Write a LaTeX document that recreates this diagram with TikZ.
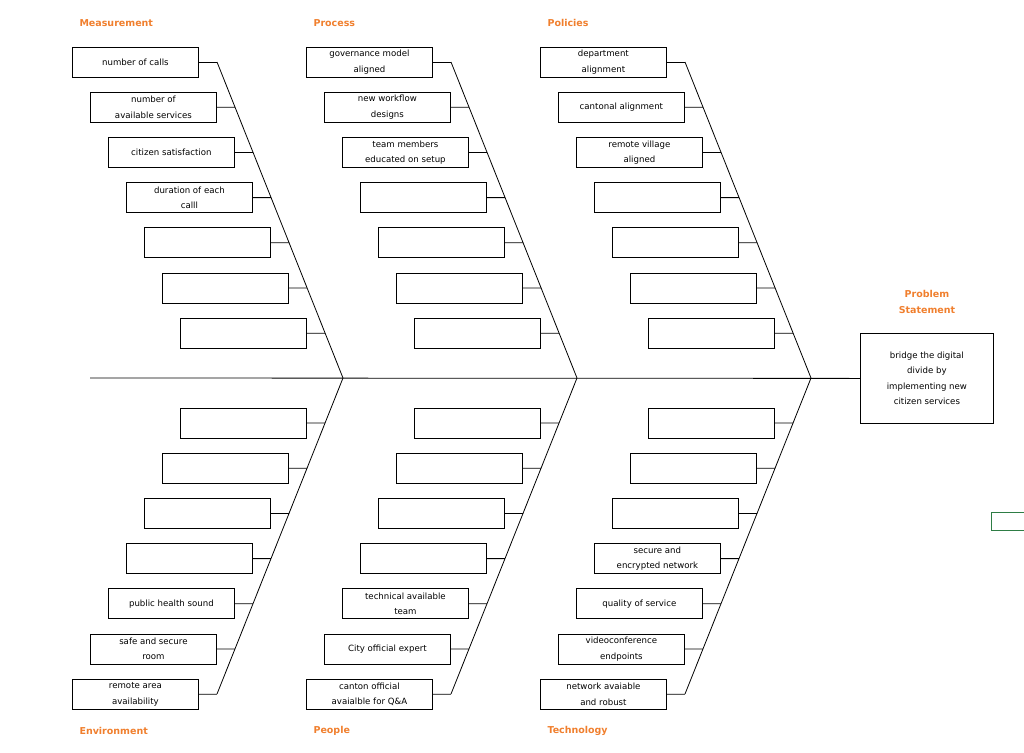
\documentclass[tikz,border=0pt]{standalone}
\usepackage{fontspec}
\setmainfont{DejaVu Sans}
\usetikzlibrary{calc}
\definecolor{catorange}{HTML}{F07F2E}
\definecolor{tabgreen}{HTML}{2E7D45}
\tikzset{
  cause/.style={draw, thick, minimum width=126pt, minimum height=30pt, inner sep=1pt,
    align=center, font=\fontsize{8.6}{15.5}\selectfont, anchor=west},
  cat/.style={text=catorange, font=\fontsize{9.5}{16}\selectfont\bfseries, anchor=west},
  bone/.style={thick}
}
\begin{document}
\begin{tikzpicture}[x=1pt,y=-1pt]
  \useasboundingbox (0,0) rectangle (1024,752);
  % spine and effect
  \node[cause, minimum width=133pt, minimum height=90pt, anchor=north west] (effect) at (860,333)
    {bridge the digital\\divide by\\implementing new\\citizen services};
  \coordinate (tail) at (90,378);
  \draw[bone] (tail) -- (effect.west);
  \node[text=catorange, font=\fontsize{9.5}{16}\selectfont\bfseries, align=center] (problem) at (927,302)
    {Problem\\Statement};
  \draw[tabgreen, thick] (991,512) rectangle (1026,530);
  % categories
  \node[cat] (measurement) at (76,23) {Measurement};
  \node[cat] (process) at (310,23) {Process};
  \node[cat] (policies) at (544,23) {Policies};
  \node[cat] (environment) at (76,731) {Environment};
  \node[cat] (people) at (310,731) {People};
  \node[cat] (technology) at (544,731) {Technology};
  % bones
  \foreach \c in {0,1,2} {
    \coordinate (hub\c) at (343+234*\c,378);
    \coordinate (top\c) at (217+234*\c,62);
    \coordinate (bot\c) at (217+234*\c,694);
    \draw[bone] (top\c) -- (hub\c);
    \draw[bone] (bot\c) -- (hub\c);
  }
  % upper causes
  \foreach \c/\texts in {
      0/{{number of calls},{number of\\available services},{citizen satisfaction},{duration of each\\calll},{},{},{}},
      1/{{governance model\\aligned},{new workflow\\designs},{team members\\educated on setup},{},{},{},{}},
      2/{{department\\alignment},{cantonal alignment},{remote village\\aligned},{},{},{},{}}} {
    \foreach \t [count=\i from 0] in \texts {
      \node[cause] (u\c\i) at (72+18*\i+234*\c, 62+45.2*\i) {\t};
      \draw[bone] (u\c\i.east) -- ($(top\c)!{45.2*\i/316}!(hub\c)$);
    }
  }
  % lower causes
  \foreach \c/\texts in {
      0/{{},{},{},{},{public health sound},{safe and secure\\room},{remote area\\availability}},
      1/{{},{},{},{},{technical available\\team},{City official expert},{canton official\\avaialble for Q\&A}},
      2/{{},{},{},{secure and\\encrypted network},{quality of service},{videoconference\\endpoints},{network avaiable\\and robust}}} {
    \foreach \t [count=\i from 0] in \texts {
      \node[cause] (l\c\i) at (180-18*\i+234*\c, 423+45.2*\i) {\t};
      \draw[bone] (l\c\i.east) -- ($(hub\c)!{(45+45.2*\i)/316}!(bot\c)$);
    }
  }
\end{tikzpicture}
\end{document}
